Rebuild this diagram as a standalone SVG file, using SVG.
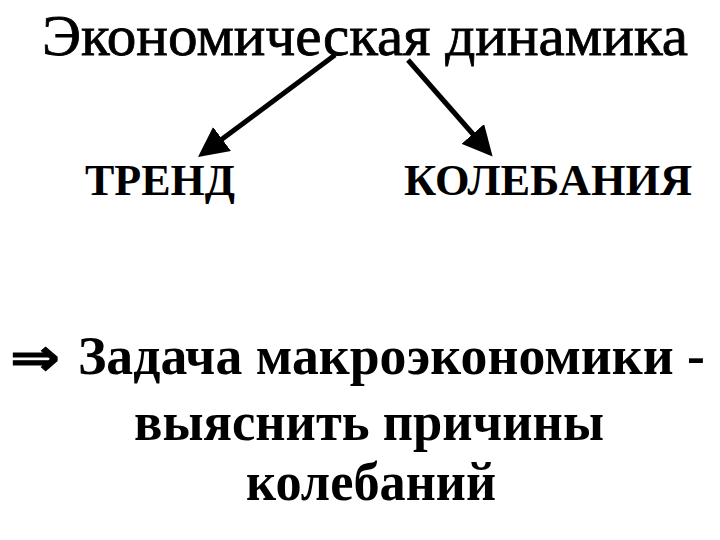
<svg xmlns="http://www.w3.org/2000/svg" width="720" height="540" viewBox="0 0 720 540">
<style>
.t{font-family:"Liberation Serif","Times New Roman",serif;fill:#000}
.b{font-weight:bold}
.c{stroke:#000;stroke-width:5;fill:none}
</style>
<defs>
<marker id="ah" markerWidth="6" markerHeight="6" refX="4" refY="3" orient="auto" markerUnits="strokeWidth">
<path d="M0,0 L6,3 L0,6 z" fill="#000"/>
</marker>
</defs>
<rect width="720" height="540" fill="#fff"/>
<g id="title"><text class="t" x="42" y="55" font-size="58" textLength="646" lengthAdjust="spacingAndGlyphs" stroke="#000" stroke-width="0.8">Экономическая динамика</text></g>
<g id="connectors">
<line class="c" x1="335" y1="55" x2="206" y2="151" marker-end="url(#ah)"/>
<line class="c" x1="408" y1="60" x2="486" y2="149" marker-end="url(#ah)"/>
</g>
<g id="trend"><text class="t b" x="85" y="195" font-size="45" textLength="150" lengthAdjust="spacingAndGlyphs">ТРЕНД</text></g>
<g id="koleb"><text class="t b" x="404" y="195" font-size="45" textLength="288" lengthAdjust="spacingAndGlyphs">КОЛЕБАНИЯ</text></g>
<g id="task">
<text x="10" y="375" font-family="DejaVu Sans, sans-serif" font-weight="bold" font-size="52" textLength="50" lengthAdjust="spacingAndGlyphs" stroke="#000" stroke-width="1">⇒</text>
<text class="t b" x="78" y="374" font-size="55" textLength="627" lengthAdjust="spacingAndGlyphs">Задача макроэкономики -</text>
<text class="t b" x="134" y="440" font-size="55" textLength="470" lengthAdjust="spacingAndGlyphs">выяснить причины</text>
<text class="t b" x="246" y="500" font-size="55" textLength="250" lengthAdjust="spacingAndGlyphs">колебаний</text>
</g>
</svg>
